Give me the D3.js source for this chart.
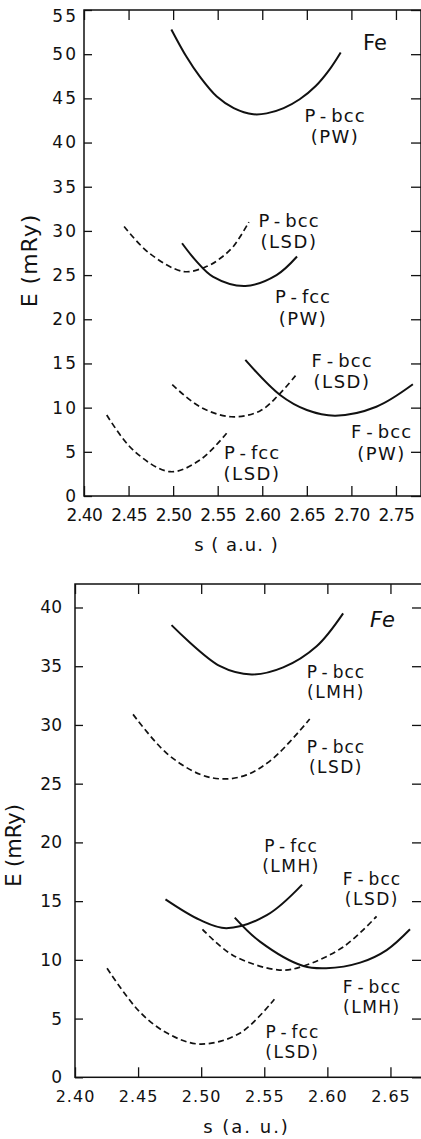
<!DOCTYPE html>
<html>
<head>
<meta charset="utf-8">
<script src="https://cdn.jsdelivr.net/npm/d3@7"></script>
<style>
  body { margin: 0; background: #fff; }
  svg { display: block; }
  text { font-family: "DejaVu Sans", sans-serif; fill: #111; }
</style>
</head>
<body>
<div id="chart"></div>
<script>
// ---- upper panel: PW vs LSD ----
const sTicksTop = [2.40, 2.45, 2.50, 2.55, 2.60, 2.65, 2.70, 2.75];
const eTicksTop = [0, 5, 10, 15, 20, 25, 30, 35, 40, 45, 50, 55];

const pbccPW = [[2.498, 52.8], [2.515, 49.7], [2.530, 47.45], [2.549, 45.2], [2.568, 43.9], [2.590, 43.2], [2.605, 43.3], [2.624, 43.9], [2.642, 44.9], [2.660, 46.4], [2.675, 48.2], [2.688, 50.2]];
const pbccLSD = [[2.445, 30.5], [2.473, 27.5], [2.512, 25.4], [2.538, 26.0], [2.553, 26.9], [2.568, 28.3], [2.585, 31.0]];
const pfccPW = [[2.510, 28.6], [2.525, 26.7], [2.545, 24.8], [2.581, 23.77], [2.616, 25.0], [2.639, 27.1]];
const fbccLSD = [[2.499, 12.6], [2.530, 10.1], [2.565, 8.97], [2.597, 9.6], [2.618, 11.4], [2.638, 13.7]];
const fbccPW = [[2.581, 15.4], [2.620, 11.43], [2.650, 9.73], [2.682, 9.09], [2.728, 10.1], [2.769, 12.64]];
const pfccLSD = [[2.4255, 9.17], [2.455, 5.21], [2.4965, 2.75], [2.530, 4.07], [2.560, 7.1]];

const curvesTop = [
  { pts: pbccPW, dashed: false },
  { pts: pbccLSD, dashed: true },
  { pts: pfccPW, dashed: false },
  { pts: fbccLSD, dashed: true },
  { pts: fbccPW, dashed: false },
  { pts: pfccLSD, dashed: true },
];
const labelsTop = [
  { name: "P-bcc", method: "(PW)", at: [2.6816, 42.36] },
  { name: "P-bcc", method: "(LSD)", at: [2.630, 30.48] },
  { name: "P-fcc", method: "(PW)", at: [2.6457, 21.84] },
  { name: "F-bcc", method: "(LSD)", at: [2.6895, 14.63] },
  { name: "F-bcc", method: "(PW)", at: [2.7338, 6.56] },
  { name: "P-fcc", method: "(LSD)", at: [2.5885, 4.19] },
];

// ---- lower panel: LMH vs LSD ----
const sTicksBottom = [2.40, 2.45, 2.50, 2.55, 2.60, 2.65];
const eTicksBottom = [0, 5, 10, 15, 20, 25, 30, 35, 40];

const pbccLMH = [[2.4765, 38.5], [2.515, 35.0], [2.540, 34.3], [2.565, 34.9], [2.5915, 36.7], [2.6125, 39.5]];
const pbccLSD2 = [[2.446, 30.9], [2.4725, 27.6], [2.499, 25.8], [2.518, 25.4], [2.536, 25.75], [2.557, 27.15], [2.586, 30.5]];
const pfccLMH = [[2.4717, 15.15], [2.499, 13.4], [2.520, 12.7], [2.552, 13.8], [2.580, 16.4]];
const fbccLSD2 = [[2.501, 12.6], [2.525, 10.4], [2.562, 9.13], [2.581, 9.47], [2.6126, 11.1], [2.639, 13.7]];
const fbccLMH = [[2.5266, 13.6], [2.5466, 11.55], [2.581, 9.47], [2.599, 9.28], [2.626, 9.76], [2.647, 10.83], [2.6655, 12.6]];
const pfccLSD2 = [[2.4254, 9.28], [2.451, 5.6], [2.474, 3.7], [2.499, 2.83], [2.5306, 3.75], [2.558, 6.64]];

const curvesBottom = [
  { pts: pbccLMH, dashed: false },
  { pts: pbccLSD2, dashed: true },
  { pts: pfccLMH, dashed: false },
  { pts: fbccLSD2, dashed: true },
  { pts: fbccLMH, dashed: false },
  { pts: pfccLSD2, dashed: true },
];
const labelsBottom = [
  { name: "P-bcc", method: "(LMH)", at: [2.6068, 33.96] },
  { name: "P-bcc", method: "(LSD)", at: [2.6068, 27.57] },
  { name: "P-fcc", method: "(LMH)", at: [2.5712, 19.2] },
  { name: "F-bcc", method: "(LSD)", at: [2.6353, 16.37] },
  { name: "F-bcc", method: "(LMH)", at: [2.6353, 7.15] },
  { name: "P-fcc", method: "(LSD)", at: [2.5723, 3.32] },
];

const W = 421, H = 1139;
const ink = "#111";

const svg = d3
  .select("#chart")
  .append("svg")
  .attr("width", W)
  .attr("height", H)
  .style("background-color", "#fff");

function styleAxis(a, fontSize, family, spacing) {
  a.select(".domain").remove();
  a.selectAll("line").attr("stroke", ink).attr("stroke-width", 1.3);
  a.selectAll("text")
    .attr("font-size", fontSize)
    .attr("font-family", family)
    .attr("letter-spacing", spacing)
    .attr("fill", ink);
}

function drawLabel(g, x, y, d, fs, gap) {
  let t = g
    .append("text")
    .attr("x", x(d.at[0]))
    .attr("y", y(d.at[1]))
    .attr("text-anchor", "middle")
    .attr("font-size", fs)
    .attr("letter-spacing", 1);
  let parts = d.name.split("-");
  t.append("tspan").text(parts[0]);
  t.append("tspan").attr("dx", 4).text("-");
  t.append("tspan").attr("dx", 4).text(parts[1]);

  g.append("text")
    .attr("x", x(d.at[0]))
    .attr("y", y(d.at[1]) + gap)
    .attr("text-anchor", "middle")
    .attr("font-size", fs)
    .attr("letter-spacing", 1.5)
    .text(d.method);
}

function drawPanel(p) {
  const g = svg.append("g");
  const x = d3.scaleLinear().domain(p.sDomain).range([p.left, p.right]);
  const y = d3.scaleLinear().domain(p.eDomain).range([p.bottom, p.top]);

  // ticks on all four sides, pointing inward
  g.append("g")
    .attr("transform", `translate(0,${p.bottom})`)
    .call(
      d3.axisBottom(x)
        .tickValues(p.sTicks)
        .tickFormat(d3.format(".2f"))
        .tickSizeInner(-10)
        .tickSizeOuter(0)
        .tickPadding(p.xPad)
    )
    .call((a) => styleAxis(a, p.xFont, "DejaVu Sans", p.xSpacing));

  g.append("g")
    .attr("transform", `translate(0,${p.top})`)
    .call(d3.axisTop(x).tickValues(p.sTicks).tickFormat("").tickSizeInner(-10).tickSizeOuter(0))
    .call((a) => styleAxis(a, 1, "DejaVu Sans", 0));

  g.append("g")
    .attr("transform", `translate(${p.left},0)`)
    .call(
      d3.axisLeft(y)
        .tickValues(p.eTicks)
        .tickFormat(d3.format("d"))
        .tickSizeInner(-8)
        .tickSizeOuter(0)
        .tickPadding(p.yPad)
    )
    .call((a) => styleAxis(a, p.yFont, p.yFamily, p.ySpacing))
    .call((a) =>
      a.selectAll(".tick text").filter((d) => d === p.eDomain[1]).attr("dy", "0.65em")
    );

  g.append("g")
    .attr("transform", `translate(${p.right},0)`)
    .call(d3.axisRight(y).tickValues(p.eTicks).tickFormat("").tickSizeInner(-10).tickSizeOuter(0))
    .call((a) => styleAxis(a, 1, "DejaVu Sans", 0));

  // frame
  g.append("rect")
    .attr("x", p.left)
    .attr("y", p.top)
    .attr("width", p.right - p.left)
    .attr("height", p.bottom - p.top)
    .attr("fill", "none")
    .attr("stroke", ink)
    .attr("stroke-width", 1.5);

  const line = d3
    .line()
    .curve(d3.curveCatmullRom.alpha(0.5))
    .x((d) => x(d[0]))
    .y((d) => y(d[1]));

  g.selectAll("path.curve")
    .data(p.curves)
    .enter()
    .append("path")
    .attr("class", "curve")
    .attr("d", (d) => line(d.pts))
    .attr("fill", "none")
    .attr("stroke", ink)
    .attr("stroke-width", (d) => (d.dashed ? 1.7 : 2))
    .attr("stroke-dasharray", (d) => (d.dashed ? "6,3.5" : null));

  p.labels.forEach((d) => drawLabel(g, x, y, d, p.labelFont, p.labelGap));

  g.append("text")
    .attr("x", x(p.fe[0]))
    .attr("y", y(p.fe[1]))
    .attr("text-anchor", "middle")
    .attr("font-size", 21)
    .attr("font-style", p.feStyle)
    .text("Fe");

  g.append("text")
    .attr("x", p.sTitle[0])
    .attr("y", p.sTitle[1])
    .attr("text-anchor", "middle")
    .attr("font-size", 18)
    .attr("letter-spacing", p.sTitleSpacing)
    .text(p.sTitleText);

  g.append("text")
    .attr("transform", `translate(${p.eTitle[0]},${p.eTitle[1]}) rotate(-90)`)
    .attr("text-anchor", "middle")
    .attr("font-size", p.eTitleFont)
    .attr("letter-spacing", p.eTitleSpacing)
    .text("E (mRy)");
}

drawPanel({
  left: 84, right: 421, top: 10, bottom: 496,
  sDomain: [2.40, 2.7781], eDomain: [0, 55],
  sTicks: sTicksTop, eTicks: eTicksTop,
  xPad: 13, xFont: 17, xSpacing: -0.5,
  yPad: 6, yFont: 17, yFamily: "DejaVu Sans", ySpacing: 2,
  curves: curvesTop, labels: labelsTop, labelFont: 18, labelGap: 21.5,
  fe: [2.7265, 50.5], feStyle: "normal",
  sTitle: [236.5, 551], sTitleText: "s ( a.u. )", sTitleSpacing: 1,
  eTitle: [37, 260.5], eTitleFont: 22, eTitleSpacing: 1,
});

drawPanel({
  left: 75, right: 422, top: 584, bottom: 1077.3,
  sDomain: [2.40, 2.675], eDomain: [0, 42],
  sTicks: sTicksBottom, eTicks: eTicksBottom,
  xPad: 13, xFont: 16, xSpacing: 1,
  yPad: 13, yFont: 17, yFamily: "Liberation Sans", ySpacing: 0,
  curves: curvesBottom, labels: labelsBottom, labelFont: 17, labelGap: 20,
  fe: [2.6437, 38.36], feStyle: "italic",
  sTitle: [246.5, 1133], sTitleText: "s (a. u.)", sTitleSpacing: 2,
  eTitle: [20.5, 845.5], eTitleFont: 21, eTitleSpacing: 0,
});
</script>
</body>
</html>
